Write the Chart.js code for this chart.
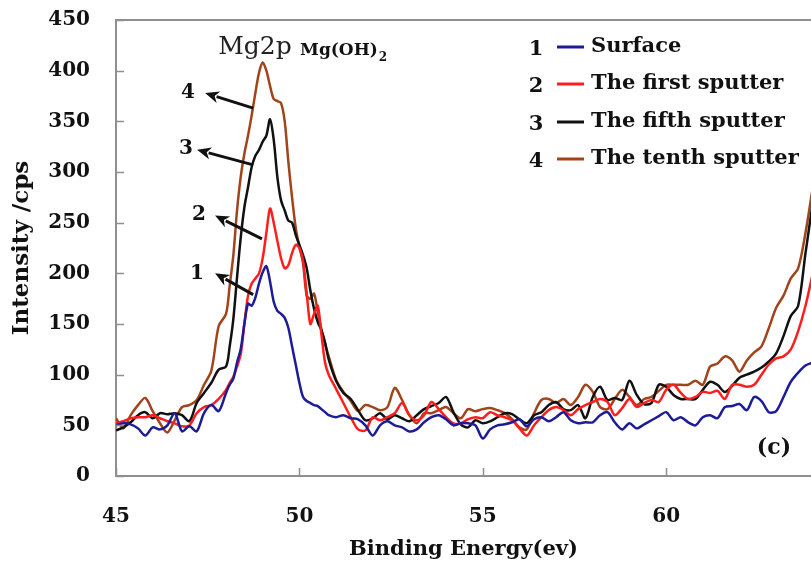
<!DOCTYPE html>
<html>
<head>
<meta charset="utf-8">
<title>Mg2p XPS depth profile</title>
<script src="https://cdn.jsdelivr.net/npm/chart.js@4.4.1/dist/chart.umd.min.js"></script>
<style>
  html, body { margin: 0; padding: 0; background: #ffffff; overflow: hidden; }
  #wrap { width: 811px; height: 568px; position: relative; }
</style>
</head>
<body>
<div id="wrap"><canvas id="xps" width="811" height="568"></canvas></div>
<script>
// Binding energy grid (eV): finer steps across the Mg2p peak
const energy = [
  45.0, 45.2, 45.4, 45.6, 45.8, 46.0, 46.2, 46.4, 46.6, 46.8, 47.0, 47.2, 47.4, 47.6, 47.8,
  48.0, 48.1, 48.2, 48.3, 48.4, 48.5, 48.6, 48.7, 48.8, 48.9, 49.0, 49.1, 49.2, 49.3, 49.4,
  49.5, 49.6, 49.7, 49.8, 49.9, 50.0, 50.1, 50.2, 50.3, 50.4, 50.5, 50.6, 50.7, 50.8,
  51.0, 51.2, 51.4, 51.6, 51.8, 52.0, 52.2, 52.4, 52.6, 52.8,
  53.0, 53.2, 53.4, 53.6, 53.8, 54.0, 54.2, 54.4, 54.6, 54.8,
  55.0, 55.2, 55.4, 55.6, 55.8, 56.0, 56.2, 56.4, 56.6, 56.8,
  57.0, 57.2, 57.4, 57.6, 57.8, 58.0, 58.2, 58.4, 58.6, 58.8,
  59.0, 59.2, 59.4, 59.6, 59.8, 60.0, 60.2, 60.4, 60.6, 60.8,
  61.0, 61.2, 61.4, 61.6, 61.8, 62.0, 62.2, 62.4, 62.6, 62.8,
  63.0, 63.2, 63.4, 63.6, 63.8, 64.0
];

// Intensity (cps) for each sputtering stage
const surface = [
  50, 52, 51, 47, 40, 48, 46, 50, 62, 44, 49, 44, 62, 70, 64,
  82, 90, 96, 112, 125, 150, 170, 168, 176, 190, 201, 207, 192, 172, 163,
  160, 156, 146, 128, 110, 92, 78, 74, 72, 70, 69, 66, 63, 60,
  58, 60, 57, 56, 50, 40, 50, 54, 50, 48,
  44, 46, 53, 58, 60, 56, 50, 52, 52, 50,
  37, 46, 50, 51, 53, 56, 49, 56, 58, 54,
  58, 63, 55, 52, 53, 53, 60, 63, 53, 46,
  52, 47, 51, 55, 59, 63, 55, 58, 53, 50,
  58, 60, 57, 68, 69, 71, 65, 78, 74, 63,
  64, 78, 93, 102, 109, 112
];
const firstSputter = [
  52, 54, 57, 58, 58, 60, 57, 54, 52, 49, 50, 62, 68, 70, 76,
  85, 92, 98, 108, 120, 150, 178, 190, 195, 200, 215, 240, 264, 250, 232,
  215, 205, 208, 220, 228, 225, 212, 180, 150, 160, 168, 140, 112, 100,
  86, 72, 58, 46, 45, 58, 55, 58, 62, 72,
  60, 55, 60, 73, 66, 58, 52, 52, 56, 58,
  57, 63, 60, 58, 55, 47, 40, 50, 58, 65,
  68, 65, 60, 66, 70, 73, 76, 73, 60, 67,
  76, 68, 72, 75, 73, 85, 90, 82, 76, 78,
  83, 82, 84, 76, 90, 90, 88, 90, 100, 110,
  116, 118, 125, 143, 168, 200
];
const fifthSputter = [
  45, 48, 53, 60, 63, 57, 62, 61, 62, 60, 54, 72, 82, 92, 105,
  108, 128, 155, 196, 235, 265, 285, 305, 316, 322, 330, 336, 352, 332, 295,
  272, 262, 252, 250, 238, 228, 218, 205, 183, 165, 152, 144, 132, 115,
  94, 82, 76, 65, 55, 57, 62, 56, 60, 57,
  54, 60, 66, 69, 72, 78, 63, 51, 48, 55,
  52, 54, 58, 62, 61, 56, 52, 60, 63, 70,
  73, 66, 65, 70, 57, 78, 88, 75, 77, 75,
  94, 80, 71, 72, 90, 88, 80, 76, 76, 76,
  85, 93, 90, 83, 89, 97, 100, 103, 107, 113,
  121, 138, 158, 168, 220, 270
];
const tenthSputter = [
  57, 47, 60, 70, 77, 64, 52, 43, 55, 68, 70, 75, 90, 104, 148,
  160, 188, 218, 262, 295, 318, 336, 356, 378, 398, 408, 400, 385, 372, 370,
  368, 350, 310, 275, 245, 226, 210, 178, 175, 180, 162, 145, 130, 118,
  95, 83, 74, 64, 70, 68, 65, 68, 87, 75,
  60, 52, 62, 62, 65, 68, 62, 57, 66, 64,
  66, 67, 65, 62, 56, 48, 46, 62, 75, 76,
  72, 76, 70, 78, 90, 83, 68, 66, 76, 85,
  78, 70, 76, 78, 84, 90, 90, 90, 90, 94,
  90, 108, 111, 118, 114, 103, 114, 122, 128, 146,
  166, 178, 195, 205, 240, 285
];

const seriesIds = ['1', '2', '3', '4'];
const seriesNames = ['Surface', 'The first sputter', 'The fifth sputter', 'The tenth sputter'];
const seriesValues = [surface, firstSputter, fifthSputter, tenthSputter];
const seriesColors = ['#1c1c96', '#ff1e1e', '#111111', '#a0441c'];

const xTicks = [45, 50, 55, 60];
const yTicks = [0, 50, 100, 150, 200, 250, 300, 350, 400, 450];

// Numbered callouts pointing at each curve (eV, cps)
const calloutTailX = [48.74, 48.98, 48.74, 48.74];
const calloutTailY = [179, 234, 307, 363];
const calloutTipX = [47.70, 47.70, 47.21, 47.43];
const calloutTipY = [200, 257, 322, 378];
const calloutLabelX = [47.21, 47.26, 46.91, 46.96];
const calloutLabelY = [200, 258, 323, 378];

const SERIF = "'DejaVu Serif', 'Liberation Serif', serif";
const AXIS_GREY = '#8f8f8f';

const decorations = {
  id: 'decorations',
  afterDatasetsDraw(chart) {
    const { ctx, chartArea: a, scales: { x, y } } = chart;
    ctx.save();

    // top edge of the plot frame
    ctx.strokeStyle = AXIS_GREY;
    ctx.lineWidth = 2;
    ctx.beginPath();
    ctx.moveTo(a.left - 1, a.top);
    ctx.lineTo(a.right, a.top);
    ctx.stroke();

    // inward tick marks
    ctx.lineWidth = 1.5;
    yTicks.forEach(v => {
      const py = Math.round(y.getPixelForValue(v)) + 0.5;
      ctx.beginPath(); ctx.moveTo(a.left, py); ctx.lineTo(a.left + 8, py); ctx.stroke();
    });
    xTicks.forEach(v => {
      const px = Math.round(x.getPixelForValue(v)) + 0.5;
      ctx.beginPath(); ctx.moveTo(px, a.bottom); ctx.lineTo(px, a.bottom - 8); ctx.stroke();
    });

    // callout arrows with curve numbers
    ctx.fillStyle = '#111';
    ctx.strokeStyle = '#111';
    ctx.lineWidth = 3;
    ctx.font = `bold 20px ${SERIF}`;
    ctx.textAlign = 'center';
    ctx.textBaseline = 'middle';
    for (let i = 0; i < seriesIds.length; i++) {
      const tx = x.getPixelForValue(calloutTailX[i]), ty = y.getPixelForValue(calloutTailY[i]);
      const hx = x.getPixelForValue(calloutTipX[i]), hy = y.getPixelForValue(calloutTipY[i]);
      const ang = Math.atan2(hy - ty, hx - tx);
      const ux = Math.cos(ang), uy = Math.sin(ang);
      const headLen = 14, headHalf = 6;
      ctx.beginPath();
      ctx.moveTo(tx, ty);
      ctx.lineTo(hx - ux * (headLen - 2), hy - uy * (headLen - 2));
      ctx.stroke();
      ctx.beginPath();
      ctx.moveTo(hx, hy);
      ctx.lineTo(hx - ux * headLen - uy * headHalf, hy - uy * headLen + ux * headHalf);
      ctx.lineTo(hx - ux * (headLen - 4), hy - uy * (headLen - 4));
      ctx.lineTo(hx - ux * headLen + uy * headHalf, hy - uy * headLen - ux * headHalf);
      ctx.closePath();
      ctx.fill();
      ctx.fillText(seriesIds[i], x.getPixelForValue(calloutLabelX[i]), y.getPixelForValue(calloutLabelY[i]));
    }

    // peak assignment
    ctx.fillStyle = '#222';
    ctx.font = `25px ${SERIF}`;
    ctx.textAlign = 'center';
    ctx.fillText('Mg2p', x.getPixelForValue(48.79), y.getPixelForValue(423));
    ctx.fillStyle = '#111';
    ctx.textAlign = 'left';
    ctx.font = `bold 17px ${SERIF}`;
    const mx = x.getPixelForValue(50.02), my = y.getPixelForValue(420);
    ctx.fillText('Mg(OH)', mx, my);
    const w = ctx.measureText('Mg(OH)').width;
    ctx.font = `bold 12px ${SERIF}`;
    ctx.fillText('2', mx + w + 1, my + 7);

    // panel tag
    ctx.font = `bold 22px ${SERIF}`;
    ctx.textAlign = 'center';
    ctx.fillText('(c)', x.getPixelForValue(62.94), y.getPixelForValue(27.6));

    // legend: number, line sample, name
    const rowY = [47, 84, 122, 159];
    chart.data.datasets.forEach((ds, i) => {
      ctx.font = `bold 21px ${SERIF}`;
      ctx.fillStyle = '#111';
      ctx.textAlign = 'center';
      ctx.fillText(seriesIds[i], 536, rowY[i] + 3);
      ctx.strokeStyle = ds.borderColor;
      ctx.lineWidth = 3;
      ctx.beginPath(); ctx.moveTo(557, rowY[i]); ctx.lineTo(584, rowY[i]); ctx.stroke();
      ctx.textAlign = 'left';
      ctx.fillText(ds.label, 591, rowY[i]);
    });

    ctx.restore();
  }
};

const ctx = document.getElementById('xps').getContext('2d');
new Chart(ctx, {
  type: 'line',
  data: {
    datasets: seriesValues.map((vals, i) => ({
      label: seriesNames[i],
      data: energy.map((e, k) => ({ x: e, y: vals[k] })),
      borderColor: seriesColors[i],
      backgroundColor: seriesColors[i],
      borderWidth: 2.5,
      pointRadius: 0,
      tension: 0.3,
      fill: false
    }))
  },
  options: {
    responsive: false,
    animation: false,
    devicePixelRatio: 1,
    layout: { padding: { top: 20, right: 0, bottom: 0, left: 0 } },
    plugins: { legend: { display: false }, tooltip: { enabled: false } },
    scales: {
      x: {
        type: 'linear',
        min: 45,
        max: 63.95,
        afterBuildTicks: s => { s.ticks = xTicks.map(v => ({ value: v })); },
        grid: { display: false, drawTicks: false },
        border: { display: true, color: AXIS_GREY, width: 2 },
        ticks: { color: '#111', padding: 29, maxRotation: 0, font: { family: SERIF, weight: 'bold', size: 20 } },
        title: {
          display: true, text: 'Binding Energy(ev)', color: '#111',
          font: { family: SERIF, weight: 'bold', size: 21 }, padding: { top: 0, bottom: 6 }
        },
        afterFit: s => { s.height = 92; s.paddingLeft = 0; s.paddingRight = 0; }
      },
      y: {
        min: 0,
        max: 450,
        afterBuildTicks: s => { s.ticks = yTicks.map(v => ({ value: v })); },
        grid: { display: false, drawTicks: false },
        border: { display: true, color: AXIS_GREY, width: 2 },
        ticks: { color: '#111', padding: 26, font: { family: SERIF, weight: 'bold', size: 20 } },
        title: {
          display: true, text: 'Intensity /cps', color: '#111',
          font: { family: SERIF, weight: 'bold', size: 23 }, padding: { top: 8, bottom: 0 }
        },
        afterFit: s => { s.width = 116; s.paddingTop = 0; s.paddingBottom = 0; }
      }
    }
  },
  plugins: [decorations]
});
</script>
</body>
</html>
